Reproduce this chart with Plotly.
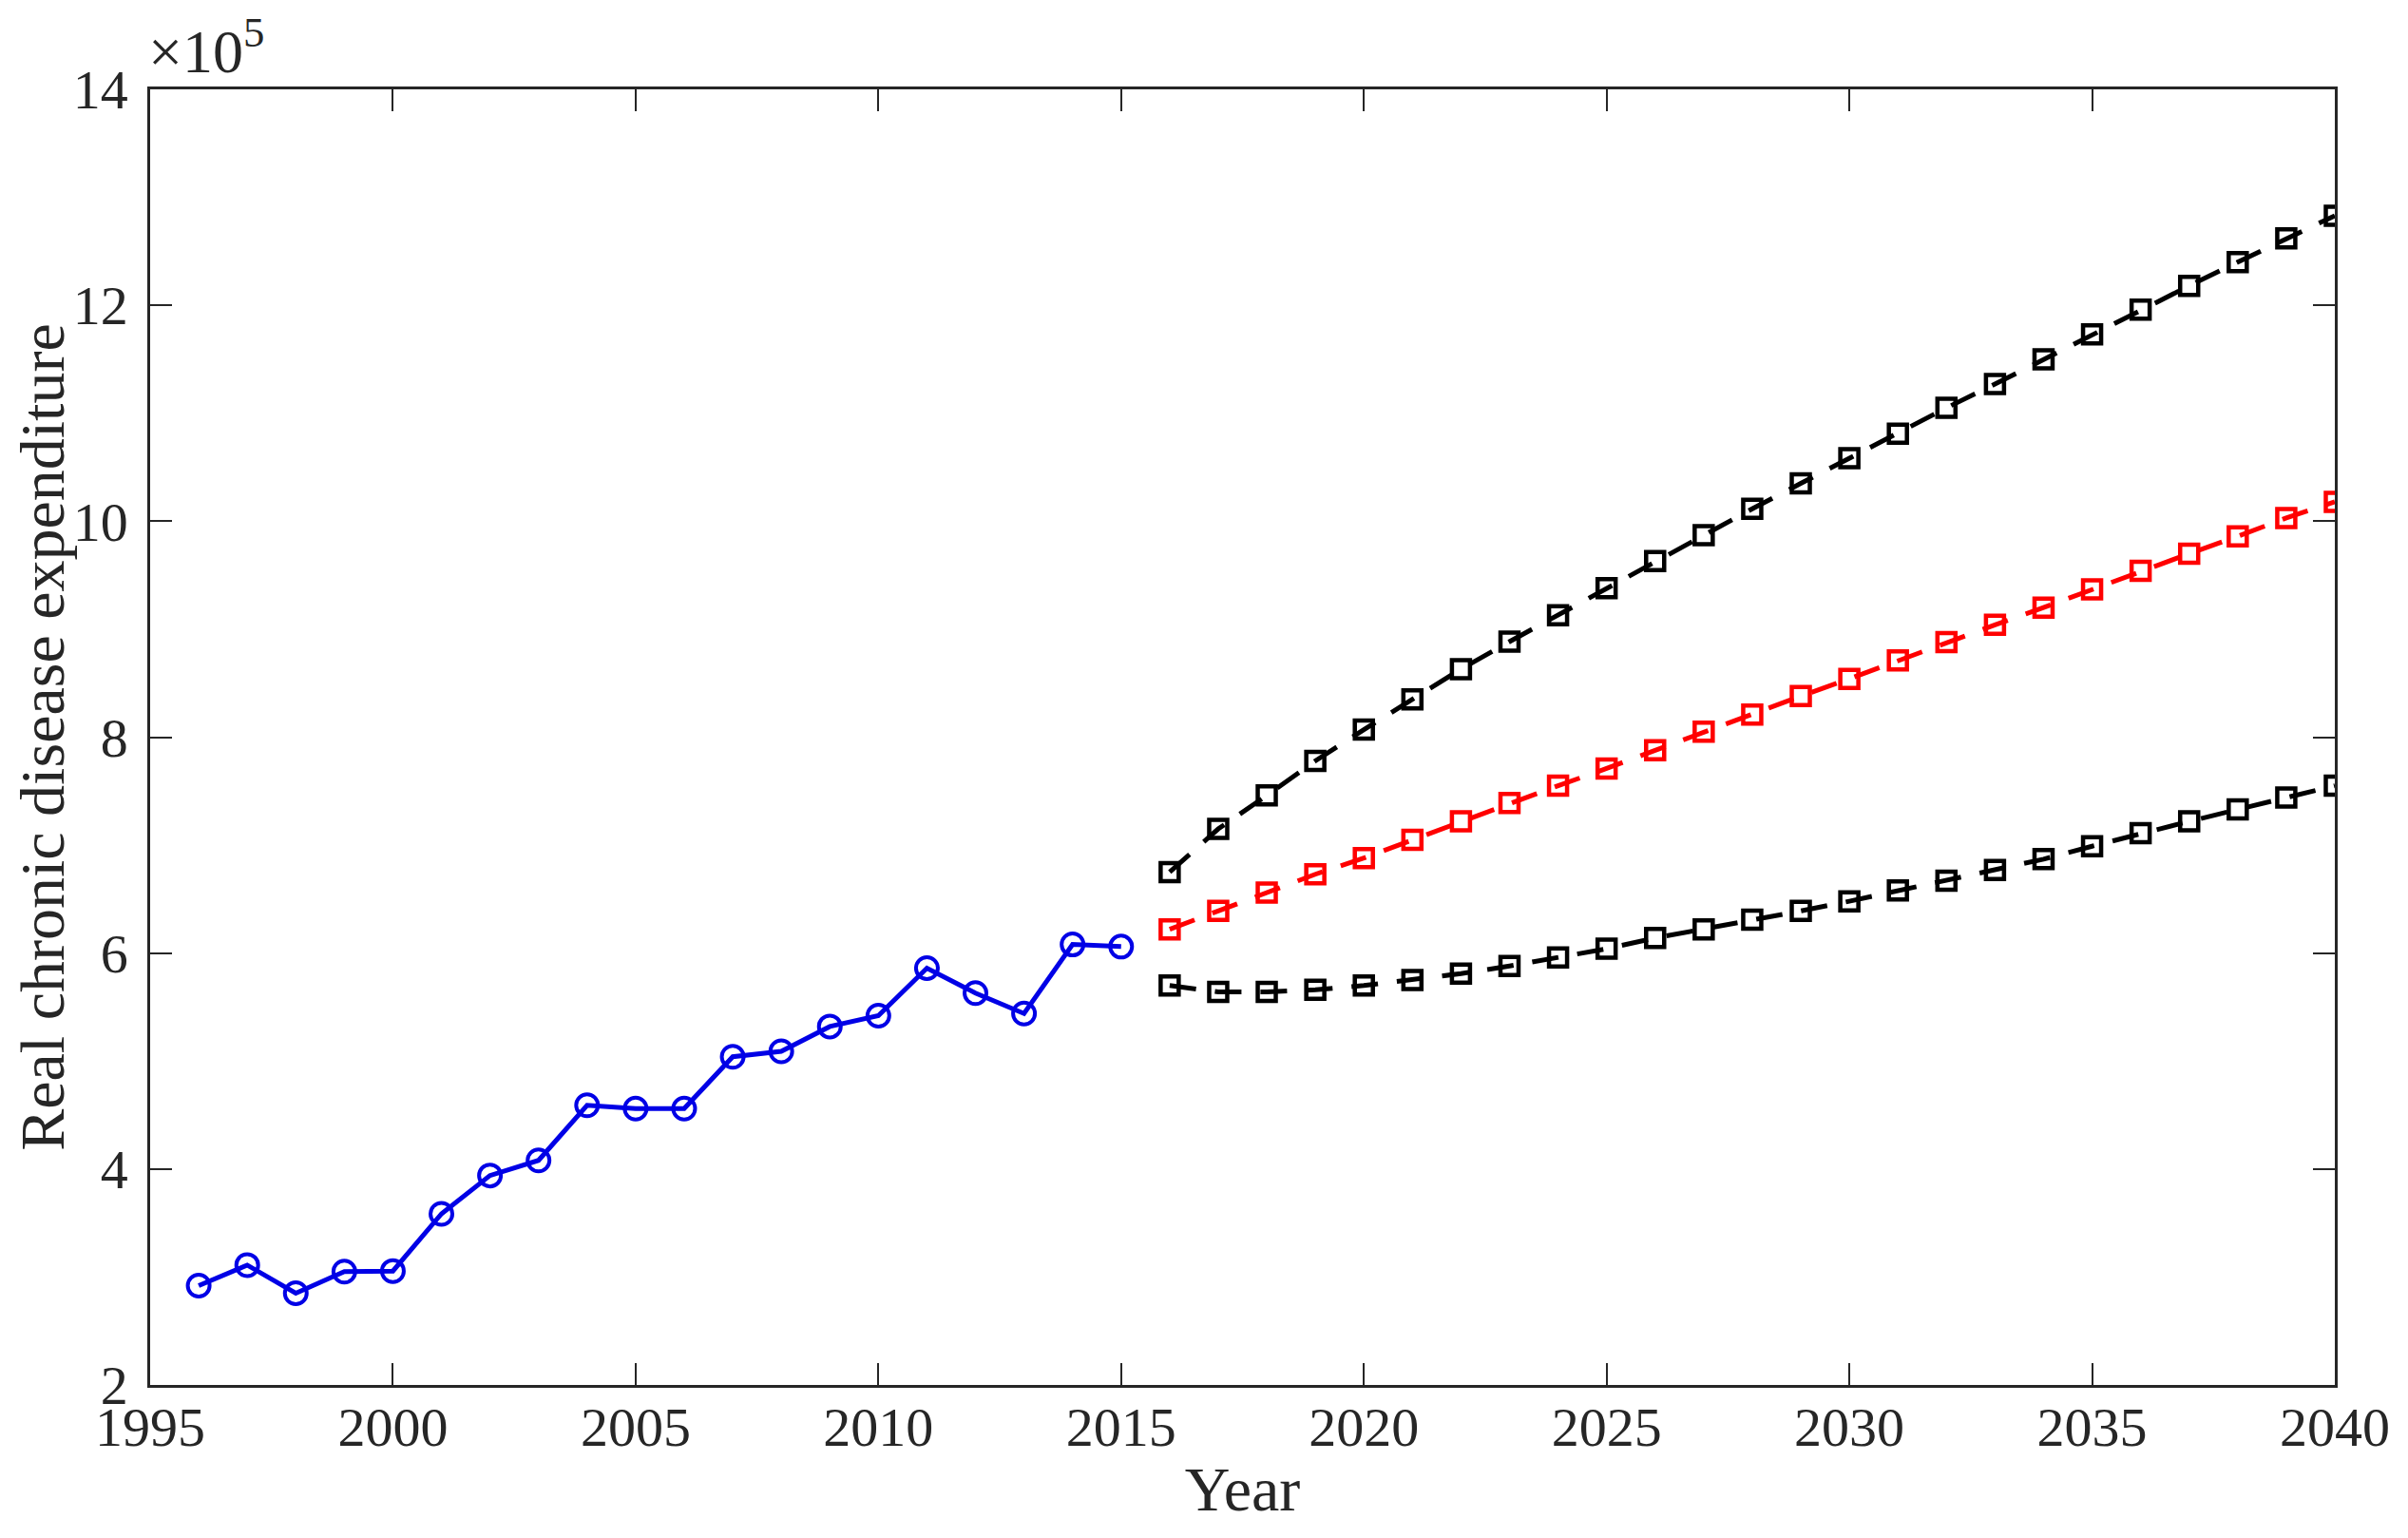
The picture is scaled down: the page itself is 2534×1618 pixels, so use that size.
import plotly.graph_objects as go

hist_years = list(range(1996, 2016))
hist_values = [2.92, 3.11, 2.85, 3.05, 3.055, 3.585, 3.94, 4.08, 4.59, 4.56,
               4.56, 5.04, 5.09, 5.32, 5.42, 5.86, 5.63, 5.44, 6.08, 6.06]

fc_years = list(range(2016, 2041))
upper_values = [6.75, 7.15, 7.46, 7.78, 8.07, 8.35, 8.63, 8.885, 9.13, 9.38,
                9.63, 9.87, 10.115, 10.35, 10.585, 10.81, 11.05, 11.27, 11.50, 11.73,
                11.96, 12.18, 12.40, 12.62, 12.83]
mid_values = [6.22, 6.39, 6.56, 6.73, 6.88, 7.05, 7.22, 7.39, 7.55, 7.71,
              7.88, 8.05, 8.21, 8.38, 8.54, 8.71, 8.88, 9.04, 9.20, 9.37,
              9.54, 9.70, 9.86, 10.03, 10.18]
lower_values = [5.70, 5.64, 5.64, 5.66, 5.70, 5.75, 5.81, 5.88, 5.96, 6.04,
                6.14, 6.22, 6.31, 6.39, 6.48, 6.58, 6.67, 6.77, 6.87, 6.99,
                7.11, 7.22, 7.33, 7.44, 7.55]

x_ticks = [1995, 2000, 2005, 2010, 2015, 2020, 2025, 2030, 2035, 2040]
y_ticks = [2, 4, 6, 8, 10, 12, 14]

FONT = "Liberation Serif"
AX = "#262626"

fig = go.Figure()
fig.add_trace(go.Scatter(
    x=hist_years, y=hist_values, mode="lines+markers",
    line=dict(color="#0000e6", width=5),
    marker=dict(symbol="circle-open", size=23, color="#0000e6", line=dict(width=4)),
    showlegend=False))
dash = "28px,20px"
for vals, col in [(upper_values, "#000000"), (mid_values, "#ff0000"), (lower_values, "#000000")]:
    fig.add_trace(go.Scatter(
        x=fc_years, y=vals, mode="lines+markers",
        line=dict(color=col, width=5, dash=dash),
        marker=dict(symbol="square-open", size=19, color=col, line=dict(width=4.5)),
        showlegend=False))

axis_common = dict(
    showline=True, linecolor=AX, linewidth=2.5, mirror="ticks",
    ticks="inside", ticklen=23, tickwidth=1.5, tickcolor=AX,
    showgrid=False, zeroline=False, automargin=False,
    tickfont=dict(family=FONT, size=58, color=AX),
)
fig.update_xaxes(range=[1995, 2040], tickvals=x_ticks,
                 ticktext=[str(v) for v in x_ticks],
                 title=dict(text="Year", font=dict(family=FONT, size=66, color=AX), standoff=10),
                 ticklabelstandoff=-8, **axis_common)
fig.update_yaxes(range=[2, 14], tickvals=y_ticks,
                 ticktext=[str(v) for v in y_ticks],
                 title=dict(text="Real chronic disease expenditure", font=dict(family=FONT, size=66, color=AX), standoff=20),
                 ticklabelstandoff=9, **axis_common)

fig.add_annotation(xref="paper", yref="paper", x=0, y=1, xanchor="left", yanchor="bottom",
                   text="×10<sup>5</sup>", showarrow=False, xshift=-4, yshift=2,
                   font=dict(family=FONT, size=64, color=AX))

fig.update_layout(width=2534, height=1618,
                  margin=dict(l=150, r=85, t=86, b=169),
                  paper_bgcolor="white", plot_bgcolor="white")

fig.write_html("out.html")
